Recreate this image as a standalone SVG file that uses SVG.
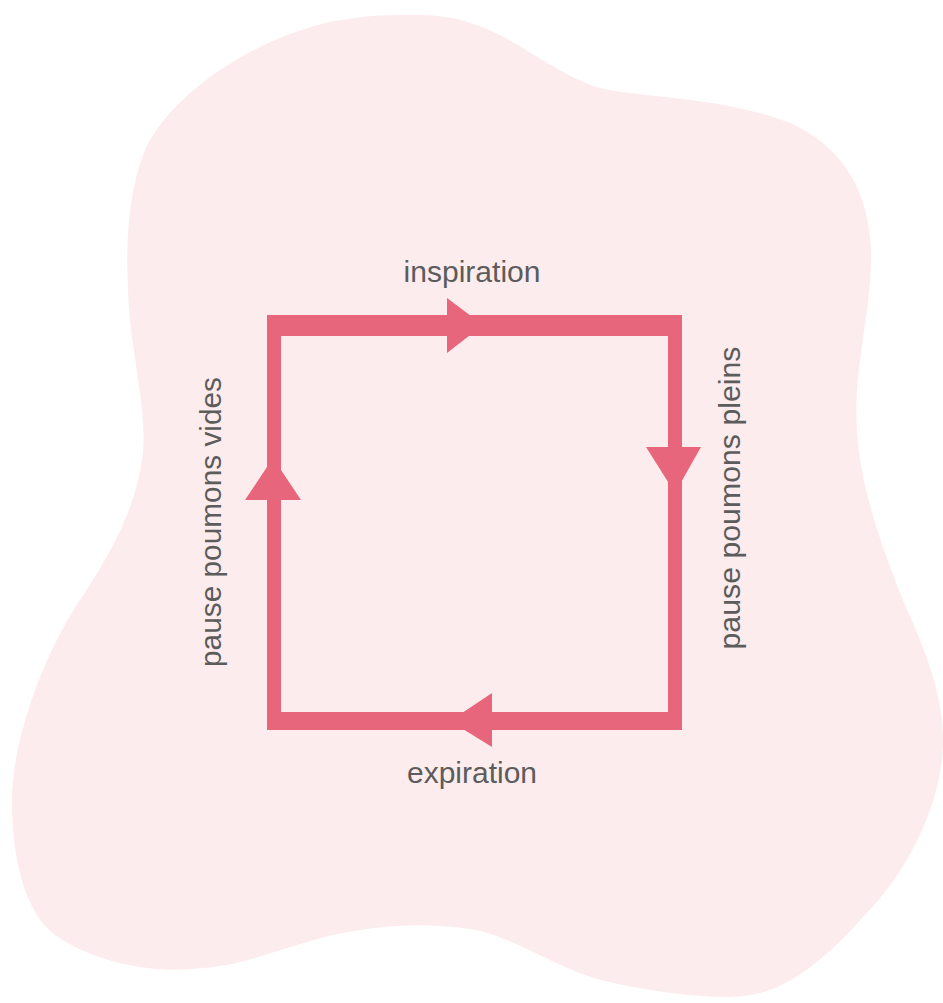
<svg xmlns="http://www.w3.org/2000/svg" width="943" height="1003" viewBox="0 0 943 1003">
  <style>
    .lbl { font-family: "Liberation Sans", Arial, sans-serif; font-size: 30px; fill: #5c5c5c; text-anchor: middle; }
    .pink { fill: #e8667b; }
  </style>
  <rect x="0" y="0" width="943" height="1003" fill="#ffffff"/>
  <g id="blob">
    <path fill="#fdeced" d="M 420,15 C 500,15 540,70 600,88 C 640,98 720,96 790,123 C 840,145 872,190 871,260 C 870,320 853,370 857,430 C 860,490 885,555 905,605 C 930,660 943,700 943,740 C 943,800 910,870 863,917 C 820,965 780,997 730,997 C 690,997 640,990 597,979 C 555,967 510,935 470,929 C 420,922 380,925 333,935 C 280,948 240,967 200,968 C 150,975 90,960 55,935 C 25,912 12,860 12,800 C 12,745 40,660 80,600 C 110,555 135,510 142,460 C 148,420 135,370 130,320 C 125,260 125,200 145,150 C 170,95 250,40 330,22 C 370,14 395,15 420,15 Z"/>
  </g>
  <g id="connectors">
    <path class="pink" fill-rule="evenodd" d="M 267,315 H 682 V 730 H 267 Z M 281,336 V 712 H 668 V 336 Z"/>
    <polygon id="arrow-top" class="pink" points="447,298 447,353 483,325"/>
    <polygon id="arrow-right" class="pink" points="646,447 701,447 675,493"/>
    <polygon id="arrow-bottom" class="pink" points="492,693 492,747 450,721"/>
    <polygon id="arrow-left" class="pink" points="273,458 245,500 301,500"/>
  </g>
  <g id="inspiration">
    <text class="lbl" x="472" y="282" textLength="137" lengthAdjust="spacingAndGlyphs">inspiration</text>
  </g>
  <g id="pause-pleins">
    <text class="lbl" transform="translate(740,498) rotate(-90)" x="0" y="0" textLength="303" lengthAdjust="spacingAndGlyphs">pause poumons pleins</text>
  </g>
  <g id="expiration">
    <text class="lbl" x="472" y="783" textLength="130" lengthAdjust="spacingAndGlyphs">expiration</text>
  </g>
  <g id="pause-vides">
    <text class="lbl" transform="translate(221,522) rotate(-90)" x="0" y="0" textLength="290" lengthAdjust="spacingAndGlyphs">pause poumons vides</text>
  </g>
</svg>
